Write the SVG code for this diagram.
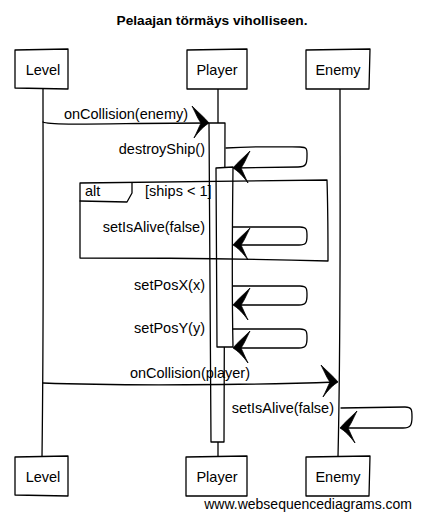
<svg xmlns="http://www.w3.org/2000/svg" width="422" height="520" viewBox="0 0 422 520">
<style>
.ln{fill:none;stroke:#000;stroke-width:1.3;stroke-linecap:round;stroke-linejoin:round}
.box{fill:#fff;stroke:#000;stroke-width:1.3;stroke-linejoin:round}
.t{font-family:"Liberation Sans",Arial,sans-serif;font-size:14.5px;fill:#000}
.m{text-anchor:middle}
.e{text-anchor:end}
.title{font-family:"Liberation Sans",Arial,sans-serif;font-size:13.7px;font-weight:bold;text-anchor:middle;fill:#000}
</style>
<defs>
<path id="ah" d="M0,0 C-4,-5 -10,-10 -17,-17 C-13,-9 -11,-4 -8,0 C-10,4 -12,9 -15,15 C-10,8 -5,3 0,0 Z" fill="#000" stroke="#000" stroke-width="0.8" stroke-linejoin="round"/>
</defs>
<rect width="422" height="520" fill="#fff"/>
<text class="title" x="212" y="25">Pelaajan törmäys viholliseen.</text>

<g id="lifelines">
<path class="ln" d="M43,89 C43,200 44,300 42,457"/>
<path class="ln" d="M218,89 L218,123 M218,442 L218,457"/>
<path class="ln" d="M340,89 C340,200 341,330 338,457"/>
</g>

<g id="activations">
<path class="box" d="M209,123 L225,123 C225,250 224,350 224,442 L211,442 C211,350 210,250 209,123 Z"/>
<path class="box" d="M216,168 L233,167 C232,250 232,300 233,347 L217,347 C217,300 216,250 216,168 Z"/>
</g>

<g id="alt">
<path class="ln" d="M80,183 L327,180 C328,210 328,240 328,261 C250,259 150,258 80,258 C80,230 80,210 80,183 Z"/>
<path class="ln" d="M80,201 L127,202 L132,193 L132,183"/>
<text class="t" x="85" y="196">alt</text>
<text class="t" x="145" y="196">[ships &lt; 1]</text>
</g>

<g id="Level">
<path class="box" d="M15,50 L68,49 L68,89 L15,88 Z"/>
<text class="t m" x="43" y="75">Level</text>
</g>
<g id="Player">
<path class="box" d="M187,50 L247,49 L247,89 L187,89 Z"/>
<text class="t m" x="217" y="75">Player</text>
</g>
<g id="Enemy">
<path class="box" d="M306,50 L370,49 L369,89 L306,89 Z"/>
<text class="t m" x="338" y="75">Enemy</text>
</g>
<g id="Level-bottom">
<path class="box" d="M15,457 L68,456 L68,496 L15,495 Z"/>
<text class="t m" x="43" y="482">Level</text>
</g>
<g id="Player-bottom">
<path class="box" d="M186,457 L247,456 L247,496 L186,496 Z"/>
<text class="t m" x="217" y="482">Player</text>
</g>
<g id="Enemy-bottom">
<path class="box" d="M306,457 L370,456 L369,496 L306,496 Z"/>
<text class="t m" x="338" y="482">Enemy</text>
</g>

<g id="connectors">
<path class="ln" d="M43,122 C50,126 120,123 208,123"/>
<use href="#ah" transform="translate(209,123)"/>
<text class="t m" x="126" y="119">onCollision(enemy)</text>

<path class="ln" d="M226,148 C260,146 290,147 300,147 C308,147 307,150 307,156 C307,164 306,167 298,167 L235,168"/>
<use href="#ah" transform="translate(233,168) scale(-1,1)"/>
<text class="t e" x="205" y="154">destroyShip()</text>

<path class="ln" d="M233,227 L300,227 C307,227 307,230 307,236 C307,243 306,245 299,245 L235,245"/>
<use href="#ah" transform="translate(233,245) scale(-1,1)"/>
<text class="t e" x="205" y="232">setIsAlive(false)</text>

<path class="ln" d="M233,286 L300,286 C307,286 307,289 307,295 C307,302 306,305 299,305 L235,305"/>
<use href="#ah" transform="translate(233,305) scale(-1,1)"/>
<text class="t e" x="205" y="290">setPosX(x)</text>

<path class="ln" d="M233,329 L300,329 C307,329 307,332 307,338 C307,345 306,348 299,348 L235,348"/>
<use href="#ah" transform="translate(233,348) scale(-1,1)"/>
<text class="t e" x="205" y="333">setPosY(y)</text>

<path class="ln" d="M43,383 C120,386 250,385 336,382"/>
<use href="#ah" transform="translate(338,382)"/>
<text class="t m" x="190" y="378">onCollision(player)</text>

<path class="ln" d="M341,408 L405,407 C412,407 412,410 412,417 C412,426 410,428 403,428 L343,428"/>
<use href="#ah" transform="translate(340,428) scale(-1,1)"/>
<text class="t e" x="334" y="413">setIsAlive(false)</text>
</g>

<text class="t" x="412" y="509" text-anchor="end" style="font-size:14px">www.websequencediagrams.com</text>
</svg>
